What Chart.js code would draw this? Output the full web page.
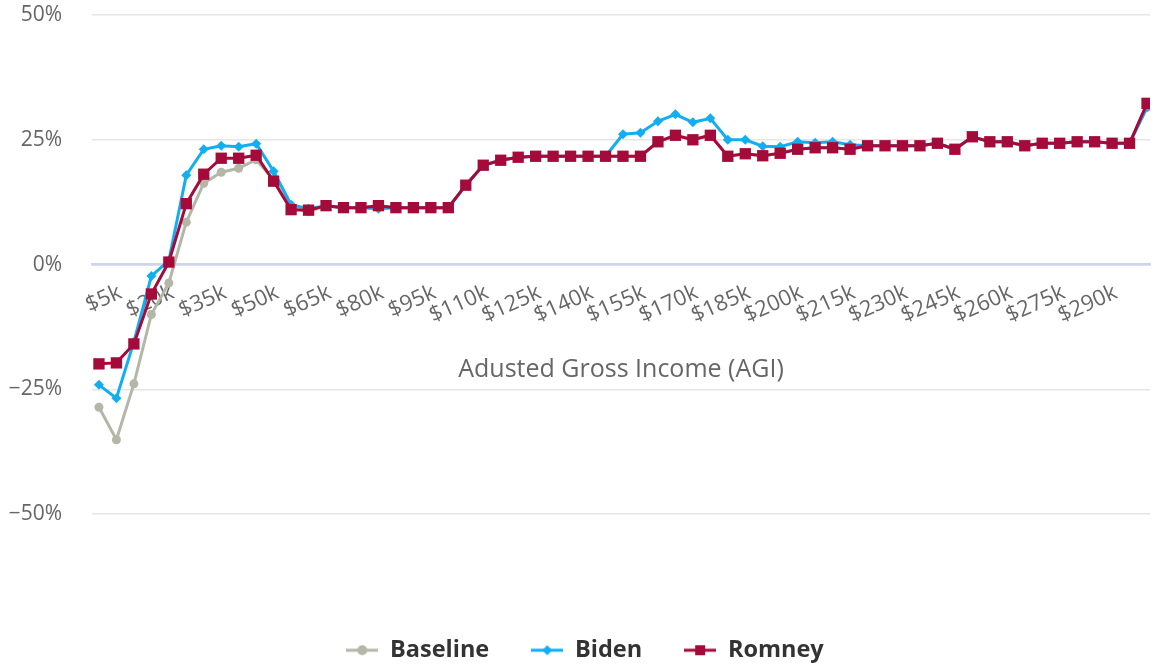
<!DOCTYPE html>
<html>
<head>
<meta charset="utf-8">
<script src="https://cdn.jsdelivr.net/npm/chart.js@4.4.1/dist/chart.umd.min.js"></script>
<style>
  html, body { margin: 0; padding: 0; background: #fff; }
  #wrap { width: 1158px; height: 668px; }
</style>
</head>
<body>
<div id="wrap"><canvas id="agiChart"></canvas></div>
<script>
// Income brackets ($k)
var incomes = [0, 5, 10, 15, 20, 25, 30, 35, 40, 45, 50, 55, 60, 65, 70, 75, 80, 85, 90, 95,
               100, 105, 110, 115, 120, 125, 130, 135, 140, 145, 150, 155, 160, 165, 170, 175, 180, 185, 190, 195,
               200, 205, 210, 215, 220, 225, 230, 235, 240, 245, 250, 255, 260, 265, 270, 275, 280, 285, 290, 295, 300];

// Labelled ticks
var xTickValues = [5, 20, 35, 50, 65, 80, 95, 110, 125, 140, 155, 170, 185, 200, 215, 230, 245, 260, 275, 290];
var yTickValues = [-50, -25, 0, 25, 50];

// Rates (%)
var baseline = [-28.6, -35.1, -23.9, -10.0, -3.7, 8.5, 16.3, 18.5, 19.3, 21.0,
                17.0, 11.5, 10.6, 11.8, 11.4, 11.4, 11.8, 11.4, 11.4, 11.4,
                11.4, 15.9, 19.9, 20.9, 21.5, 21.7, 21.7, 21.7, 21.7, 21.7,
                21.7, 21.7, 24.6, 25.9, 25.0, 25.9, 21.7, 22.2, 21.8, 22.3,
                23.1, 23.4, 23.4, 23.1, 23.8, 23.8, 23.8, 23.8, 24.3, 23.1,
                25.6, 24.6, 24.6, 23.8, 24.3, 24.3, 24.6, 24.6, 24.3, 24.3, 31.5];
var biden = [-24.1, -26.8, -15.5, -2.3, 0.8, 17.9, 23.1, 23.8, 23.6, 24.2,
             18.7, 12.0, 11.2, 11.8, 11.4, 11.4, 11.2, 11.4, 11.4, 11.4,
             11.4, 15.9, 19.9, 20.9, 21.5, 21.7, 21.7, 21.7, 21.7, 21.7,
             26.1, 26.4, 28.7, 30.1, 28.5, 29.3, 25.0, 25.0, 23.7, 23.6,
             24.6, 24.4, 24.6, 24.0, 23.8, 23.8, 23.8, 23.8, 24.3, 23.1,
             25.6, 24.6, 24.6, 23.8, 24.3, 24.3, 24.6, 24.6, 24.3, 24.3, 31.5];
var romney = [-19.9, -19.7, -15.9, -5.9, 0.5, 12.2, 18.1, 21.3, 21.3, 21.9,
              16.7, 11.0, 10.9, 11.8, 11.4, 11.4, 11.8, 11.4, 11.4, 11.4,
              11.4, 15.9, 19.9, 20.9, 21.5, 21.7, 21.7, 21.7, 21.7, 21.7,
              21.7, 21.7, 24.6, 25.9, 25.0, 25.9, 21.7, 22.2, 21.8, 22.3,
              23.1, 23.4, 23.4, 23.1, 23.8, 23.8, 23.8, 23.8, 24.3, 23.1,
              25.6, 24.6, 24.6, 23.8, 24.3, 24.3, 24.6, 24.6, 24.3, 24.3, 32.3];

Chart.defaults.font.family = "'Open Sans', sans-serif";

// small line + marker picture for the legend
function legendIcon(color, shape) {
    var c = document.createElement('canvas');
    c.width = 32;
    c.height = 16;
    var g = c.getContext('2d');
    g.strokeStyle = color;
    g.lineWidth = 3;
    g.beginPath();
    g.moveTo(0, 8);
    g.lineTo(32, 8);
    g.stroke();
    g.fillStyle = color;
    g.beginPath();
    if (shape === 'circle') {
        g.arc(16, 8, 5, 0, Math.PI * 2);
    } else if (shape === 'rectRot') {
        g.moveTo(16, 3); g.lineTo(21, 8); g.lineTo(16, 13); g.lineTo(11, 8); g.closePath();
    } else {
        g.rect(11, 3, 10, 10);
    }
    g.fill();
    return c;
}

function series(label, values, color, shape, radius, order) {
    return {
        label: label,
        data: values,
        borderColor: color,
        backgroundColor: color,
        pointBackgroundColor: color,
        pointBorderWidth: 0,
        pointStyle: shape,
        pointRadius: radius,
        borderWidth: 3,
        tension: 0,
        order: order
    };
}

// nudge the legend a little to the right, like the original
var legendShift = {
    id: 'legendShift',
    afterLayout: function(chart) {
        chart.legend.left += 6;
        chart.legend.right += 6;
    }
};

var ctx = document.getElementById('agiChart').getContext('2d');
var agiChart = new Chart(ctx, {
    type: 'line',
    data: {
        labels: incomes,
        datasets: [
            series('Baseline', baseline, '#b4b7a8', 'circle', 4.5, 3),
            series('Biden', biden, '#12aef2', 'rectRot', 5, 2),
            series('Romney', romney, '#a50b3a', 'rect', 8, 1)
        ]
    },
    plugins: [legendShift],
    options: {
        responsive: true,
        maintainAspectRatio: false,
        animation: false,
        layout: {
            padding: { top: 15, right: 0, bottom: -4, left: 0 }
        },
        scales: {
            x: {
                type: 'linear',
                position: { y: 0 },
                min: -1.99,
                max: 300.85,
                afterBuildTicks: function(scale) {
                    scale.ticks = xTickValues.map(function(v) { return { value: v }; });
                },
                ticks: {
                    autoSkip: false,
                    minRotation: 24,
                    maxRotation: 24,
                    padding: 7,
                    labelOffset: 4,
                    color: '#666666',
                    font: { size: 22 },
                    callback: function(v) { return '$' + v + 'k'; }
                },
                grid: { display: false },
                border: { color: '#ccd6eb', width: 2.5 },
                title: {
                    display: true,
                    text: 'Adusted Gross Income (AGI)',
                    color: '#666666',
                    font: { size: 25 },
                    padding: { top: 19, bottom: 0 }
                }
            },
            y: {
                min: -50,
                max: 50,
                afterFit: function(scale) {
                    scale.width = 92;
                    scale.paddingTop = 12;
                    scale.paddingBottom = 12;
                },
                afterBuildTicks: function(scale) {
                    scale.ticks = yTickValues.map(function(v) { return { value: v }; });
                },
                ticks: {
                    padding: 30,
                    color: '#666666',
                    font: { size: 21 },
                    callback: function(v) { return (v < 0 ? '\u2212' + Math.abs(v) : v) + '%'; }
                },
                grid: {
                    drawTicks: false,
                    lineWidth: 1.5,
                    color: function(c) { return c.tick && c.tick.value === 0 ? '#ccd6eb' : '#e6e6e6'; }
                },
                border: { display: false }
            }
        },
        plugins: {
            tooltip: { enabled: false },
            legend: {
                position: 'bottom',
                title: { display: true, text: '', padding: { top: 68, bottom: 0 } },
                labels: {
                    usePointStyle: true,
                    pointStyleWidth: 32,
                    padding: 42,
                    color: '#333333',
                    font: { size: 23.5, weight: 'bold' },
                    generateLabels: function(chart) {
                        return chart.data.datasets.map(function(ds, i) {
                            return {
                                text: ds.label,
                                pointStyle: legendIcon(ds.borderColor, ds.pointStyle),
                                fontColor: '#333333',
                                hidden: !chart.isDatasetVisible(i),
                                datasetIndex: i,
                                lineWidth: 0,
                                strokeStyle: 'rgba(0,0,0,0)',
                                fillStyle: 'rgba(0,0,0,0)'
                            };
                        });
                    }
                }
            }
        }
    }
});
</script>
</body>
</html>
